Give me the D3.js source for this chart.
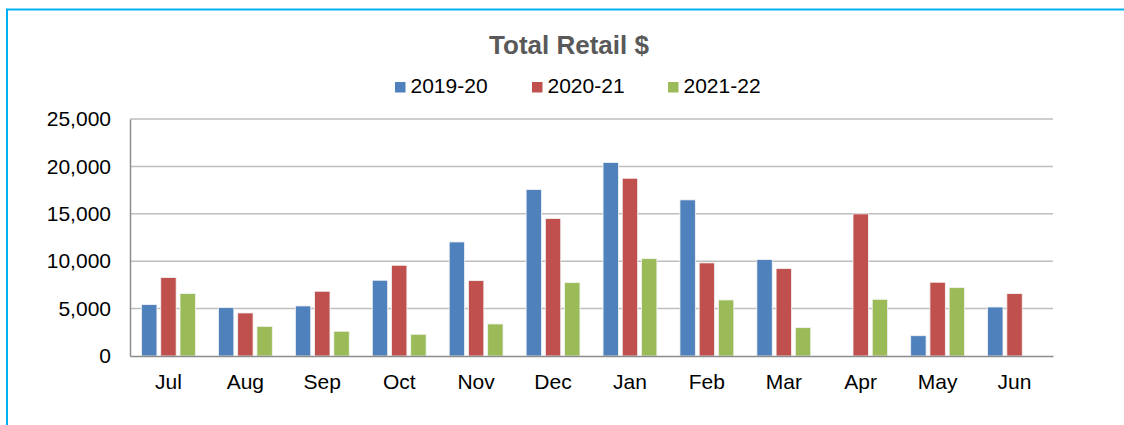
<!DOCTYPE html>
<html>
<head>
<meta charset="utf-8">
<script src="https://cdn.jsdelivr.net/npm/d3@7"></script>
<style>
  body { margin: 0; background: #fff; }
  svg { display: block; font-family: "Liberation Sans", Arial, sans-serif; }
</style>
</head>
<body>
<div class="canva"></div>
<script>
const months = ["Jul", "Aug", "Sep", "Oct", "Nov", "Dec", "Jan", "Feb", "Mar", "Apr", "May", "Jun"];
const seriesNames = ["2019-20", "2020-21", "2021-22"];
const sales1920 = [5420, 5100, 5280, 7990, 12030, 17560, 20410, 16470, 10170, null, 2140, 5170];
const sales2021 = [8270, 4540, 6830, 9570, 7950, 14500, 18750, 9820, 9220, 14990, 7780, 6580];
const sales2122 = [6580, 3130, 2610, 2290, 3380, 7740, 10270, 5910, 2990, 5980, 7210, null];
const yTicks = [0, 5000, 10000, 15000, 20000, 25000];
const colors = ["#4F81BD", "#C0504D", "#9BBB59"];

const seriesValues = [sales1920, sales2021, sales2122];

const width = 1124, height = 425;
const margin = {top: 119, right: 71, bottom: 69, left: 130};
const graphWidth = width - margin.left - margin.right;
const graphHeight = height - margin.top - margin.bottom;

const svg = d3.select(".canva").append("svg")
    .attr("width", width)
    .attr("height", height);

// chart border (left and top edges visible)
svg.append("line").attr("x1", 7).attr("x2", 7).attr("y1", 9.5).attr("y2", height)
    .attr("stroke", "#00B0F0").attr("stroke-width", 2);
svg.append("line").attr("x1", 6).attr("x2", width).attr("y1", 9.5).attr("y2", 9.5)
    .attr("stroke", "#00B0F0").attr("stroke-width", 2);

svg.append("text")
    .attr("x", 569).attr("y", 53.5)
    .attr("text-anchor", "middle")
    .attr("font-size", 26).attr("font-weight", "bold")
    .attr("fill", "#595959")
    .text("Total Retail $");

// legend
const legendX = [395, 532, 668];
const legend = svg.append("g");
seriesNames.forEach((name, i) => {
  legend.append("rect")
      .attr("x", legendX[i]).attr("y", 82)
      .attr("width", 10.5).attr("height", 10.5)
      .attr("fill", colors[i]);
  legend.append("text")
      .attr("x", legendX[i] + 15.5).attr("y", 93)
      .attr("font-size", 21).attr("fill", "#000")
      .text(name);
});

const mainCanvas = svg.append("g")
    .attr("transform", `translate(${margin.left}, ${margin.top})`);

const x0 = d3.scaleBand()
    .domain(months)
    .range([0, graphWidth])
    .paddingInner(0.3)
    .paddingOuter(0.15);

const x1 = d3.scaleBand()
    .domain(seriesNames)
    .range([0, x0.bandwidth()])
    .paddingInner(0.2);

const y = d3.scaleLinear()
    .domain([0, 25000])
    .range([graphHeight, 0]);

// gridlines
mainCanvas.append("g")
    .selectAll("line")
    .data(yTicks.slice(1))
    .enter().append("line")
    .attr("x1", 0).attr("x2", graphWidth)
    .attr("y1", d => y(d)).attr("y2", d => y(d))
    .attr("stroke", "#BEBEBE").attr("stroke-width", 1.5);

// bars
const groups = mainCanvas.selectAll(".month")
    .data(months)
    .enter().append("g")
    .attr("class", "month")
    .attr("transform", d => `translate(${x0(d)}, 0)`);

groups.selectAll("rect")
    .data((m, i) => seriesNames.map((s, j) => ({s: s, v: seriesValues[j][i], c: colors[j]})))
    .enter().filter(d => d.v != null).append("rect")
    .attr("x", d => x1(d.s))
    .attr("y", d => y(d.v))
    .attr("width", x1.bandwidth())
    .attr("height", d => graphHeight - y(d.v))
    .attr("fill", d => d.c)
    .attr("stroke", "#f4f4f4")
    .attr("stroke-width", 0.8);

// y axis
const yAxis = d3.axisLeft(y)
    .tickValues(yTicks)
    .tickSize(0)
    .tickPadding(19)
    .tickFormat(d3.format(","));

const yg = mainCanvas.append("g").call(yAxis);
yg.select(".domain").attr("stroke", "#8C8C8C").attr("stroke-width", 1.5);
yg.selectAll("text").attr("font-size", 21).attr("fill", "#000")
    .attr("font-family", "Liberation Sans, Arial, sans-serif");

// x axis
const xAxis = d3.axisBottom(x0).tickSize(0).tickPadding(18);
const xg = mainCanvas.append("g")
    .attr("transform", `translate(0, ${graphHeight})`)
    .call(xAxis);
xg.select(".domain").attr("stroke", "#8C8C8C").attr("stroke-width", 1.5);
xg.selectAll("text").attr("font-size", 21).attr("fill", "#000")
    .attr("font-family", "Liberation Sans, Arial, sans-serif");
</script>
</body>
</html>
